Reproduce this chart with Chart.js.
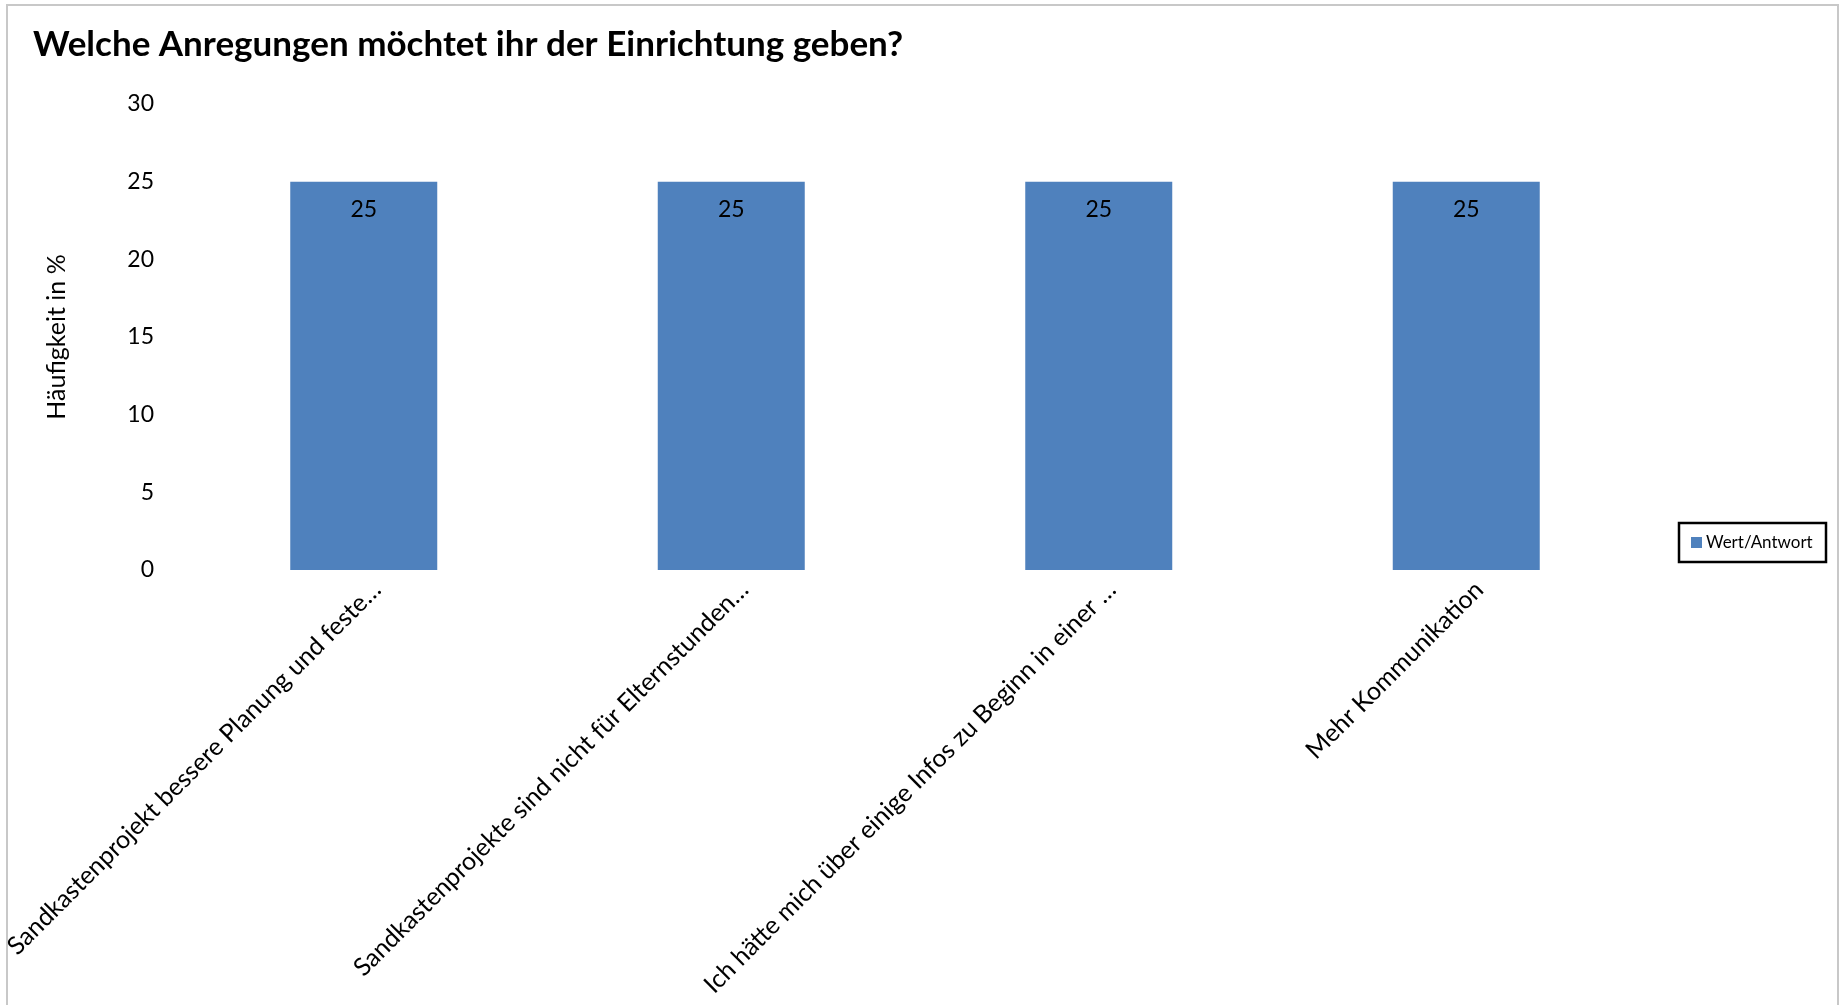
<!DOCTYPE html>
<html>
<head>
<meta charset="utf-8">
<script src="https://cdn.jsdelivr.net/npm/chart.js@4/dist/chart.umd.min.js"></script>
<style>
  html, body { margin: 0; padding: 0; background: #ffffff; }
  #wrap { width: 1843px; height: 1005px; position: relative; overflow: hidden; }
  canvas { display: block; }
</style>
</head>
<body>
<div id="wrap"><canvas id="c" width="1843" height="1005"></canvas></div>
<script>
// ---- data ----
const chartTitle = 'Welche Anregungen möchtet ihr der Einrichtung geben?';
const yAxisTitle = 'Häufigkeit in %';
const seriesName = 'Wert/Antwort';
const categories = [
  'Sandkastenprojekt bessere Planung und feste…',
  'Sandkastenprojekte sind nicht für Elternstunden…',
  'Ich hätte mich über einige Infos zu Beginn in einer …',
  'Mehr Kommunikation'
];
const values = [25, 25, 25, 25];
const yMin = 0;
const yMax = 30;
const yStep = 5;

// ---- styles ----
const FONT = 'Lato, "Open Sans", "DejaVu Sans", sans-serif';
const BAR_COLOR = '#4F81BD';

const framePlugin = {
  id: 'frame',
  beforeDraw(chart) {
    const ctx = chart.ctx;
    ctx.save();
    ctx.fillStyle = '#ffffff';
    ctx.fillRect(0, 0, chart.width, chart.height);
    ctx.strokeStyle = '#C8C8C8';
    ctx.lineWidth = 2;
    ctx.strokeRect(7, 5, 1831, 1010);
    ctx.restore();
  }
};

const valueLabelPlugin = {
  id: 'valueLabels',
  afterDatasetsDraw(chart) {
    const ctx = chart.ctx;
    const meta = chart.getDatasetMeta(0);
    ctx.save();
    ctx.fillStyle = '#000000';
    ctx.font = '23px ' + FONT;
    ctx.textAlign = 'center';
    ctx.textBaseline = 'middle';
    meta.data.forEach((bar, i) => {
      ctx.fillText(String(chart.data.datasets[0].data[i]), bar.x, bar.y + 28);
    });
    ctx.restore();
  }
};

const boxLegendPlugin = {
  id: 'boxLegend',
  afterDraw(chart) {
    const ctx = chart.ctx;
    const ds = chart.data.datasets[0];
    const x = 1679, y = 523, w = 147, h = 39;
    ctx.save();
    ctx.fillStyle = '#ffffff';
    ctx.fillRect(x, y, w, h);
    ctx.strokeStyle = '#000000';
    ctx.lineWidth = 2.5;
    ctx.strokeRect(x, y, w, h);
    ctx.fillStyle = ds.backgroundColor;
    ctx.fillRect(x + 12, y + 14, 11, 11);
    ctx.fillStyle = '#000000';
    ctx.font = '17px ' + FONT;
    ctx.textAlign = 'left';
    ctx.textBaseline = 'middle';
    ctx.fillText(ds.label, x + 27, y + h / 2 + 0.5);
    ctx.restore();
  }
};

new Chart(document.getElementById('c'), {
  type: 'bar',
  data: {
    labels: categories,
    datasets: [{
      label: seriesName,
      data: values,
      backgroundColor: BAR_COLOR,
      borderWidth: 0,
      barPercentage: 0.4,
      categoryPercentage: 1.0
    }]
  },
  options: {
    responsive: false,
    devicePixelRatio: 1,
    animation: false,
    layout: { padding: { left: 33, right: 193, top: 0, bottom: 0 } },
    plugins: {
      legend: { display: false },
      tooltip: { enabled: false },
      title: {
        display: true,
        text: chartTitle,
        align: 'start',
        color: '#000000',
        font: { family: FONT, size: 35, weight: 'bold' },
        padding: { top: 24, bottom: 38 }
      }
    },
    scales: {
      x: {
        grid: { display: false, drawTicks: false },
        border: { display: false },
        ticks: {
          color: '#000000',
          font: { family: FONT, size: 25 },
          minRotation: 45,
          maxRotation: 45,
          autoSkip: false,
          padding: 5,
          labelOffset: 13
        },
        afterFit(s) { s.height = 435; s.paddingLeft = 0; s.paddingRight = 0; }
      },
      y: {
        min: yMin,
        max: yMax,
        grid: { display: false, drawTicks: false },
        border: { display: false },
        ticks: {
          stepSize: yStep,
          color: '#000000',
          font: { family: FONT, size: 23 },
          padding: 26
        },
        title: {
          display: true,
          text: yAxisTitle,
          color: '#000000',
          font: { family: FONT, size: 25 },
          padding: { top: 9, bottom: 0 }
        },
        afterFit(s) { s.width = 147; s.paddingTop = 0; s.paddingBottom = 0; }
      }
    }
  },
  plugins: [framePlugin, valueLabelPlugin, boxLegendPlugin]
});
</script>
</body>
</html>
